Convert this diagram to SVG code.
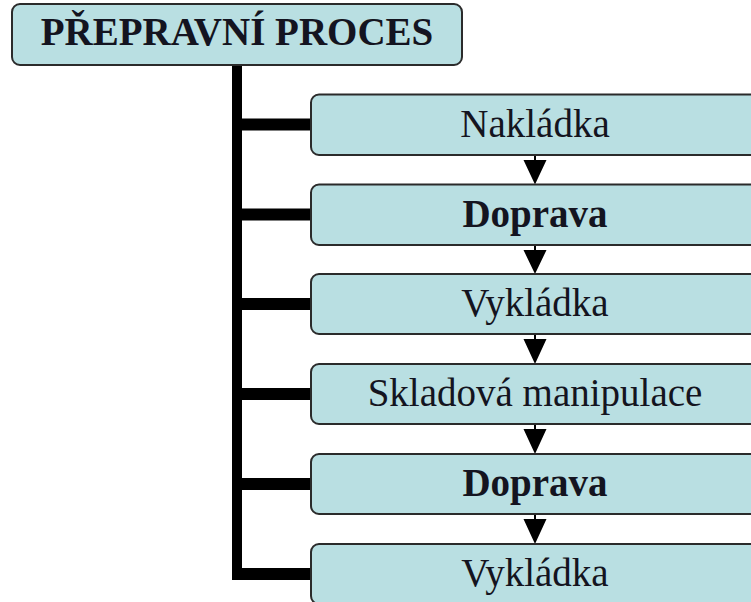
<svg xmlns="http://www.w3.org/2000/svg" width="751" height="602" viewBox="0 0 751 602">
<style>
.box{fill:#b9dfe2;stroke:#2b2b2b;stroke-width:2}
.t{font-family:'Liberation Serif','DejaVu Serif',serif;font-size:39px;fill:#141420;text-anchor:middle}
.b{font-weight:bold}
.trunk{stroke:#000;fill:none}
.arr{stroke:#000;stroke-width:2;fill:none}
.head{fill:#000}
</style>
<rect width="751" height="602" fill="#fff"/>
<g id="connectors">
<path class="trunk" d="M237 66 V580" stroke-width="10"/>
<path class="trunk" stroke-width="12" d="M237 124.5 H312 M237 214.5 H312 M237 304 H312 M237 394 H312 M237 484 H312 M237 574 H312"/>
<g id="arrows">
<path class="arr" d="M535 155 V162 M535 245 V252 M535 334 V341 M535 424 V431 M535 514 V521"/>
<path class="head" d="M523.5 160 H546.5 L535 184.5 Z M523.5 250 H546.5 L535 274 Z M523.5 339 H546.5 L535 364 Z M523.5 429 H546.5 L535 454 Z M523.5 519 H546.5 L535 544 Z"/>
</g>
</g>
<g id="title">
<rect class="box" x="12" y="4" width="450" height="61" rx="8"/>
<text class="t b" x="237" y="45" font-size="40.5">PŘEPRAVNÍ PROCES</text>
</g>
<g id="n1">
<rect class="box" x="311" y="94.5" width="460" height="60.5" rx="8"/>
<text class="t" x="535" y="136.5">Nakládka</text>
</g>
<g id="n2">
<rect class="box" x="311" y="184.5" width="460" height="60.5" rx="8"/>
<text class="t b" x="535" y="226.5">Doprava</text>
</g>
<g id="n3">
<rect class="box" x="311" y="274" width="460" height="60" rx="8"/>
<text class="t" x="535" y="316">Vykládka</text>
</g>
<g id="n4">
<rect class="box" x="311" y="364" width="460" height="60" rx="8"/>
<text class="t" x="535" y="406">Skladová manipulace</text>
</g>
<g id="n5">
<rect class="box" x="311" y="454" width="460" height="60" rx="8"/>
<text class="t b" x="535" y="496">Doprava</text>
</g>
<g id="n6">
<rect class="box" x="311" y="544" width="460" height="60" rx="8"/>
<text class="t" x="535" y="586">Vykládka</text>
</g>
</svg>
